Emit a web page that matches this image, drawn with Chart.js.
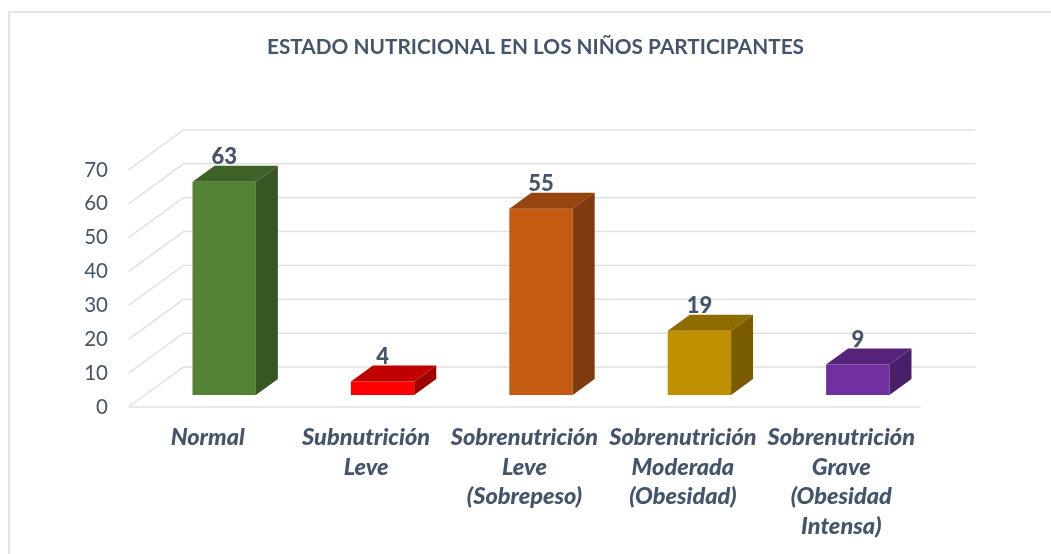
<!DOCTYPE html>
<html>
<head>
<meta charset="utf-8">
<title>Estado nutricional</title>
<script src="https://cdn.jsdelivr.net/npm/chart.js@4.4.0/dist/chart.umd.min.js"></script>
<style>
  html, body { margin: 0; padding: 0; background: #fff; }
  #wrap { width: 1051px; height: 554px; }
</style>
</head>
<body>
<div id="wrap"><canvas id="myChart" width="1051" height="554"></canvas></div>
<script>
// data
const categories = [
    ['Normal'],
    ['Subnutrición', 'Leve'],
    ['Sobrenutrición', 'Leve', '(Sobrepeso)'],
    ['Sobrenutrición', 'Moderada', '(Obesidad)'],
    ['Sobrenutrición', 'Grave', '(Obesidad', 'Intensa)']
];
const values = [63, 4, 55, 19, 9];
const yMax = 70;
const yStep = 10;

const frontColors = ['#548235', '#FF0000', '#C55A11', '#BF9000', '#7030A0'];
const topColors   = ['#3E6127', '#C00000', '#964410', '#8F6C00', '#55247A'];
const sideColors  = ['#375623', '#A00000', '#7F3A0E', '#7A5C00', '#4A1F6A'];

const textColor = '#44546A';
const gridColor = '#DEE1E6';
const FONT = 'Lato, "Open Sans", sans-serif';

// depth of the 3D floor (front edge -> back wall) and where bars sit in it
const DX = 55, DY = 40;
const BAR_D0 = 0.3, BAR_D1 = 0.7;

const threeD = {
    id: 'threeD',
    beforeDraw(chart) {
        const ctx = chart.ctx;
        ctx.save();
        ctx.strokeStyle = '#E1E5EA';
        ctx.lineWidth = 2;
        ctx.beginPath();
        ctx.moveTo(9, chart.height + 5);
        ctx.lineTo(9, 12);
        ctx.lineTo(chart.width + 5, 12);
        ctx.stroke();
        ctx.restore();
    },
    beforeDatasetsDraw(chart) {
        const ctx = chart.ctx;
        const area = chart.chartArea;
        const ys = chart.scales.y;
        const fx = area.left - BAR_D0 * DX;
        const bx = area.left + (1 - BAR_D0) * DX;
        const rx = area.right + (1 - BAR_D0) * DX;
        ctx.save();
        ctx.strokeStyle = gridColor;
        ctx.lineWidth = 1.5;
        ctx.beginPath();
        ys.ticks.forEach(t => {
            const p = ys.getPixelForValue(t.value);
            ctx.moveTo(fx, p + BAR_D0 * DY);
            ctx.lineTo(bx, p - (1 - BAR_D0) * DY);
            ctx.lineTo(rx, p - (1 - BAR_D0) * DY);
        });
        // front edge of the floor
        const p0 = ys.getPixelForValue(0) + BAR_D0 * DY;
        ctx.moveTo(fx, p0);
        ctx.lineTo(area.right - BAR_D0 * DX, p0);
        ctx.stroke();
        ctx.restore();
    },
    afterDatasetsDraw(chart) {
        const ctx = chart.ctx;
        const meta = chart.getDatasetMeta(0);
        const dx = (BAR_D1 - BAR_D0) * DX, dy = (BAR_D1 - BAR_D0) * DY;
        ctx.save();
        meta.data.forEach((bar, i) => {
            const { x, y, base, width } = bar.getProps(['x', 'y', 'base', 'width'], true);
            const l = x - width / 2, r = x + width / 2;
            // top face
            ctx.fillStyle = topColors[i];
            ctx.beginPath();
            ctx.moveTo(l, y);
            ctx.lineTo(r, y);
            ctx.lineTo(r + dx, y - dy);
            ctx.lineTo(l + dx, y - dy);
            ctx.closePath();
            ctx.fill();
            // side face
            ctx.fillStyle = sideColors[i];
            ctx.beginPath();
            ctx.moveTo(r, y);
            ctx.lineTo(r + dx, y - dy);
            ctx.lineTo(r + dx, base - dy);
            ctx.lineTo(r, base);
            ctx.closePath();
            ctx.fill();
            // value label
            ctx.fillStyle = textColor;
            ctx.font = '900 22px ' + FONT;
            ctx.textAlign = 'center';
            ctx.textBaseline = 'middle';
            ctx.fillText(values[i], x, y - 25);
        });
        ctx.restore();
    }
};

new Chart(document.getElementById('myChart'), {
    type: 'bar',
    data: {
        labels: categories,
        datasets: [{
            data: values,
            backgroundColor: frontColors,
            borderWidth: 0,
            barPercentage: 1,
            categoryPercentage: 0.4
        }]
    },
    options: {
        responsive: false,
        animation: false,
        devicePixelRatio: 1,
        layout: { padding: { left: 20, right: 0, top: 0, bottom: 0 } },
        plugins: {
            legend: { display: false },
            tooltip: { enabled: false },
            title: {
                display: true,
                text: 'ESTADO NUTRICIONAL EN LOS NIÑOS PARTICIPANTES',
                color: textColor,
                font: { family: FONT, size: 20.8, weight: 'bold', lineHeight: 1.2 },
                padding: { top: 35, bottom: 98 }
            }
        },
        scales: {
            x: {
                grid: { display: false, drawTicks: false },
                border: { display: false },
                ticks: {
                    color: textColor,
                    font: { family: FONT, size: 23.5, weight: '900', style: 'italic', lineHeight: '29.5px' },
                    padding: 28,
                    labelOffset: -BAR_D0 * DX,
                    maxRotation: 0,
                    autoSkip: false
                },
                afterFit(scale) { scale.height = 159; }
            },
            y: {
                min: 0,
                max: yMax,
                grid: { display: false, drawTicks: false },
                border: { display: false },
                ticks: {
                    stepSize: yStep,
                    color: textColor,
                    font: { family: FONT, size: 20.5 },
                    padding: 37,
                    labelOffset: BAR_D0 * DY
                },
                afterFit(scale) { scale.width = 125; }
            },
            // empty right axis, only reserves the space right of the floor
            yRight: {
                position: 'right',
                display: true,
                grid: { display: false, drawTicks: false },
                border: { display: false },
                ticks: { display: false },
                afterFit(scale) { scale.width = 114; }
            }
        }
    },
    plugins: [threeD]
});
</script>
</body>
</html>
